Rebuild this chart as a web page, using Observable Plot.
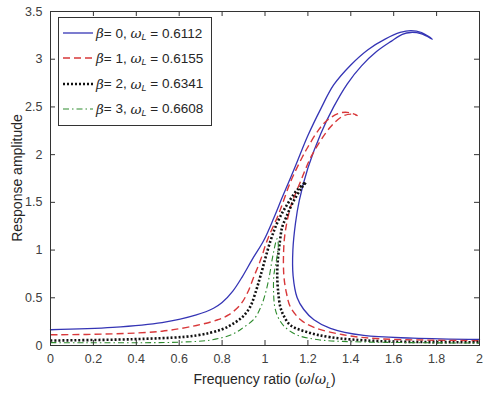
<!DOCTYPE html>
<html><head><meta charset="utf-8">
<script src="https://cdn.jsdelivr.net/npm/d3@7"></script>
<script src="https://cdn.jsdelivr.net/npm/@observablehq/plot@0.6"></script>
<style>
body{margin:0;background:#fff;font-family:"Liberation Sans",Arial,sans-serif;}
#wrap{position:relative;width:483px;height:394px;overflow:hidden;}
#wrap > svg{position:absolute;left:0;top:0;}
.lbl{position:absolute;color:#262626;font-size:14px;white-space:nowrap;}
.sym{font-family:"DejaVu Serif","Liberation Serif",serif;font-style:italic;}
.sub{font-size:9px;font-style:italic;position:relative;top:4px;}
#legend{position:absolute;left:58px;top:17px;width:154px;height:109px;border:1px solid #333;background:#fff;box-sizing:border-box;}
.row{position:absolute;left:3px;height:20px;display:flex;align-items:center;font-size:13.5px;color:#262626;white-space:nowrap;}
.row svg{margin-right:2px;flex:none;}
</style></head><body><div id="wrap"></div>
<script>
const xTicks = [0, 0.2, 0.4, 0.6, 0.8, 1, 1.2, 1.4, 1.6, 1.8, 2];
const yTicks = [0, 0.5, 1, 1.5, 2, 2.5, 3, 3.5];
const betaValues = ["0", "1", "2", "3"];
const omegaLValues = ["0.6112", "0.6155", "0.6341", "0.6608"];

const beta0 = [[0,0.165],[0.29,0.19],[0.52,0.24],[0.68,0.32],[0.76,0.39],[0.8,0.45],[0.85,0.57],[0.894,0.72],[0.94,0.9],[0.994,1.1],[1.04,1.33],[1.08,1.55],[1.14,1.87],[1.2,2.2],[1.26,2.48],[1.32,2.73],[1.4,2.94],[1.48,3.10],[1.56,3.21],[1.63,3.28],[1.68,3.30],[1.73,3.28],[1.78,3.21],
  [1.73,3.265],[1.68,3.28],[1.64,3.26],[1.59,3.19],[1.52,3.08],[1.45,2.93],[1.383,2.74],[1.32,2.50],[1.26,2.22],[1.2,1.86],[1.16,1.52],[1.142,1.28],[1.13,1.0],[1.131,0.73],[1.15,0.5],[1.18,0.38],[1.228,0.27],[1.305,0.18],[1.46,0.105],[1.69,0.077],[2,0.063]];
const beta1 = [[0,0.112],[0.29,0.122],[0.52,0.15],[0.68,0.21],[0.78,0.27],[0.83,0.32],[0.886,0.43],[0.92,0.56],[0.948,0.72],[0.98,0.9],[1.01,1.1],[1.064,1.38],[1.12,1.72],[1.173,1.97],[1.2,2.08],[1.25,2.26],[1.29,2.36],[1.34,2.43],[1.375,2.445],[1.41,2.43],[1.43,2.41],
  [1.40,2.425],[1.36,2.40],[1.305,2.29],[1.22,2.0],[1.166,1.72],[1.119,1.45],[1.095,1.2],[1.087,1.0],[1.088,0.73],[1.1,0.55],[1.119,0.4],[1.166,0.27],[1.228,0.19],[1.383,0.105],[1.538,0.07],[1.75,0.057],[2,0.05]];
const beta2 = [[0,0.052],[0.44,0.07],[0.68,0.105],[0.8,0.17],[0.86,0.24],[0.9,0.31],[0.932,0.41],[0.955,0.55],[0.979,0.73],[1.026,1.1],[1.06,1.3],[1.096,1.45],[1.15,1.63],[1.19,1.71],
  [1.17,1.65],[1.13,1.5],[1.1,1.35],[1.08,1.24],[1.07,1.1],[1.06,0.9],[1.057,0.73],[1.062,0.55],[1.072,0.4],[1.09,0.3],[1.12,0.21],[1.197,0.14],[1.305,0.087],[1.538,0.045],[2,0.035]];
const beta3 = [[0,0.03],[0.6,0.035],[0.754,0.06],[0.85,0.12],[0.9,0.19],[0.95,0.28],[0.98,0.4],[1.0,0.53],[1.018,0.7],[1.035,0.92],[1.05,1.08],[1.057,1.12],
  [1.062,1.05],[1.05,0.85],[1.041,0.73],[1.041,0.5],[1.046,0.4],[1.06,0.3],[1.09,0.2],[1.15,0.11],[1.25,0.06],[1.4,0.04],[2,0.025]];

const series = [
  {data: beta0, stroke: "#3535b5", strokeWidth: 1.3, dash: null, cap: "round"},
  {data: beta1, stroke: "#d8383a", strokeWidth: 1.4, dash: "7,4", cap: "butt"},
  {data: beta2, stroke: "#111111", strokeWidth: 2.6, dash: "2,2", cap: "butt"},
  {data: beta3, stroke: "#2e8b2e", strokeWidth: 1.1, dash: "6,3,1.5,3", cap: "butt"}
];

const W = 483, H = 394, mL = 50, mR = 4, mT = 11, mB = 49;
const pw = W - mL - mR, ph = H - mT - mB;

const chart = Plot.plot({
  width: W, height: H,
  marginLeft: mL, marginRight: mR, marginTop: mT, marginBottom: mB,
  style: {fontFamily: '"Liberation Sans", Arial, sans-serif', background: "transparent"},
  x: {domain: [0, 2]},
  y: {domain: [0, 3.5]},
  marks: [
    ...series.map(s => Plot.line(s.data, {x: d => d[0], y: d => d[1], stroke: s.stroke, strokeWidth: s.strokeWidth, strokeDasharray: s.dash, strokeLinecap: s.cap, curve: "catmull-rom"})),
    Plot.frame({stroke: "#333", strokeWidth: 1}),
    Plot.tickX(xTicks, {x: d => d, insetTop: ph - 5, stroke: "#333"}),
    Plot.tickX(xTicks, {x: d => d, insetBottom: ph - 5, stroke: "#333"}),
    Plot.tickY(yTicks, {y: d => d, insetRight: pw - 5, stroke: "#333"}),
    Plot.tickY(yTicks, {y: d => d, insetLeft: pw - 5, stroke: "#333"}),
    Plot.axisX(xTicks, {tickSize: 0, tickPadding: 9, fontSize: 12.5, fill: "#404040", label: null, tickFormat: d => String(d)}),
    Plot.axisY(yTicks, {tickSize: 0, tickPadding: 8, fontSize: 12.5, fill: "#404040", label: null, tickFormat: d => String(d)})
  ]
});

const wrap = document.getElementById("wrap");
wrap.appendChild(chart);

// axis titles
const xl = document.createElement("div");
xl.className = "lbl";
xl.innerHTML = 'Frequency ratio (<span class="sym">ω</span>/<span class="sym">ω</span><span class="sub">L</span>)';
wrap.appendChild(xl);
xl.style.left = (mL + pw / 2 - xl.offsetWidth / 2) + "px";
xl.style.top = (371) + "px";

const yl = document.createElement("div");
yl.className = "lbl";
yl.textContent = "Response amplitude";
wrap.appendChild(yl);
yl.style.left = (17 - yl.offsetWidth / 2) + "px";
yl.style.top = (mT + ph / 2 - yl.offsetHeight / 2) + "px";
yl.style.transform = "rotate(-90deg)";

// legend
const lg = document.createElement("div");
lg.id = "legend";
wrap.appendChild(lg);
series.forEach((s, i) => {
  const r = document.createElement("div");
  r.className = "row";
  r.style.top = (5 + i * 25.3) + "px";
  r.innerHTML = `<svg width="32" height="8"><line x1="1" y1="4" x2="31" y2="4" stroke="${s.stroke}" stroke-width="${s.strokeWidth}" stroke-linecap="butt" ${s.dash ? `stroke-dasharray="${s.dash}"` : ""}/></svg>` +
    `<span class="sym">β</span>= ${betaValues[i]},&nbsp;<span class="sym">ω</span><span class="sub">L</span>&nbsp;= ${omegaLValues[i]}`;
  lg.appendChild(r);
});
</script>
</body></html>
